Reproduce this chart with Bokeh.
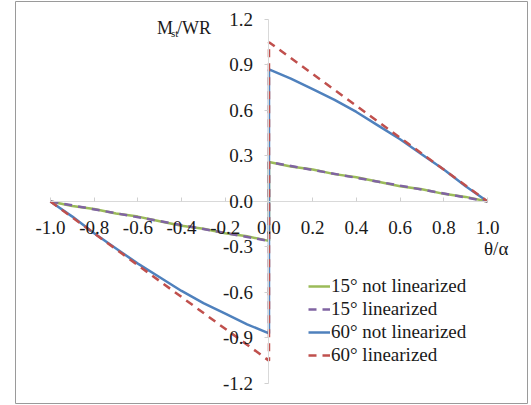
from bokeh.plotting import figure
from bokeh.models import (Range1d, FixedTicker, Label, Legend, LegendItem)
from bokeh.embed import file_html
from bokeh.resources import INLINE

# ---- data ----
x_tick_values = [-1.0, -0.8, -0.6, -0.4, -0.2, 0.0, 0.2, 0.4, 0.6, 0.8, 1.0]
x_tick_labels = ["-1.0", "-0.8", "-0.6", "-0.4", "-0.2", "0.0", "0.2", "0.4", "0.6", "0.8", "1.0"]
y_tick_values = [-1.2, -0.9, -0.6, -0.3, 0.0, 0.3, 0.6, 0.9, 1.2]
y_tick_labels = ["-1.2", "-0.9", "-0.6", "-0.3", "0.0", "0.3", "0.6", "0.9", "1.2"]

x_curve = [-1.0, -0.9, -0.8, -0.7, -0.6, -0.5, -0.4, -0.3, -0.2, -0.1, 0.0,
           0.0, 0.1, 0.2, 0.3, 0.4, 0.5, 0.6, 0.7, 0.8, 0.9, 1.0]
y_15_not_lin = [0.0, -0.03, -0.05, -0.08, -0.10, -0.13, -0.16, -0.18, -0.21, -0.23, -0.26,
                0.26, 0.23, 0.21, 0.18, 0.16, 0.13, 0.10, 0.08, 0.05, 0.03, 0.0]
y_60_not_lin = [0.0, -0.10, -0.21, -0.31, -0.41, -0.50, -0.59, -0.67, -0.74, -0.81, -0.87,
                0.87, 0.81, 0.74, 0.67, 0.59, 0.50, 0.41, 0.31, 0.21, 0.10, 0.0]
x_lin = [-1.0, 0.0, 0.0, 1.0]
y_15_lin = [0.0, -0.26, 0.26, 0.0]
y_60_lin = [0.0, -1.05, 1.05, 0.0]

series_names = ["15\u00b0 not linearized", "15\u00b0 linearized",
                "60\u00b0 not linearized", "60\u00b0 linearized"]

FONT = "'Liberation Serif', 'Times New Roman', serif"
TXT = "#1a1a1a"

p = figure(width=531, height=405, output_backend="svg", toolbar_location=None,
           x_range=Range1d(-1.160, 1.183), y_range=Range1d(-1.332, 1.318),
           min_border_left=15, min_border_right=4, min_border_top=1, min_border_bottom=2)
p.grid.visible = False
p.outline_line_color = "#9a9a9a"
p.outline_line_width = 1
p.background_fill_color = "white"
p.border_fill_color = "white"

for ax in [p.xaxis[0], p.yaxis[0]]:
    ax.fixed_location = 0
    ax.axis_line_color = "#d9d9d9"
    ax.axis_line_width = 1
    ax.major_tick_line_color = "#d0d0d0"
    ax.minor_tick_line_color = None
    ax.major_label_text_font = FONT
    ax.major_label_text_font_size = "19px"
    ax.major_label_text_color = TXT

p.xaxis.ticker = FixedTicker(ticks=x_tick_values)
p.xaxis.major_label_overrides = dict(zip(x_tick_values, x_tick_labels))
p.xaxis.bounds = (x_tick_values[0], x_tick_values[-1])
p.xaxis.major_tick_in = 4
p.xaxis.major_tick_out = 0
p.xaxis.major_label_standoff = 20

p.yaxis.ticker = FixedTicker(ticks=y_tick_values)
p.yaxis.major_label_overrides = dict(zip(y_tick_values, y_tick_labels))
p.yaxis.bounds = (y_tick_values[0], y_tick_values[-1])
p.yaxis.major_tick_in = 0
p.yaxis.major_tick_out = 4
p.yaxis.major_label_standoff = 12

c_green, c_purple, c_blue, c_red = "#9bbb59", "#8064a2", "#4f81bd", "#c0504d"
r1 = p.line(x_curve, y_15_not_lin, line_color=c_green, line_width=2.5)
r2 = p.line(x_lin, y_15_lin, line_color=c_purple, line_width=2.5, line_dash="8 6")
r3 = p.line(x_curve, y_60_not_lin, line_color=c_blue, line_width=2.5)
r4 = p.line(x_lin, y_60_lin, line_color=c_red, line_width=2.5, line_dash="8 6")

legend = Legend(items=[LegendItem(label=n, renderers=[r]) for n, r in
                       zip(series_names, [r1, r2, r3, r4])],
                location=(293, 37), padding=0, margin=0, spacing=1,
                glyph_width=22, glyph_height=20, label_height=20, label_standoff=1,
                label_text_font=FONT, label_text_font_size="19px",
                label_text_color=TXT, border_line_color=None,
                background_fill_alpha=0)
p.add_layout(legend, "center")

def px_x(px):
    return (px - 268.0) / 218.5

def px_y(py):
    return (201.0 - py) / 151.7

p.add_layout(Label(x=px_x(156), y=px_y(28), text="M", text_font=FONT,
                   text_font_size="18px", text_color=TXT, text_baseline="alphabetic"))
p.add_layout(Label(x=px_x(170), y=px_y(33), text="st", text_font=FONT,
                   text_font_size="11px", text_color=TXT, text_baseline="alphabetic"))
p.add_layout(Label(x=px_x(176), y=px_y(28), text="/WR", text_font=FONT,
                   text_font_size="18px", text_color=TXT, text_baseline="alphabetic"))
p.add_layout(Label(x=px_x(483), y=px_y(248), text="\u03b8/\u03b1", text_font=FONT,
                   text_font_size="19px", text_color=TXT, text_baseline="alphabetic"))

open("out.html", "w").write(file_html(p, INLINE))
